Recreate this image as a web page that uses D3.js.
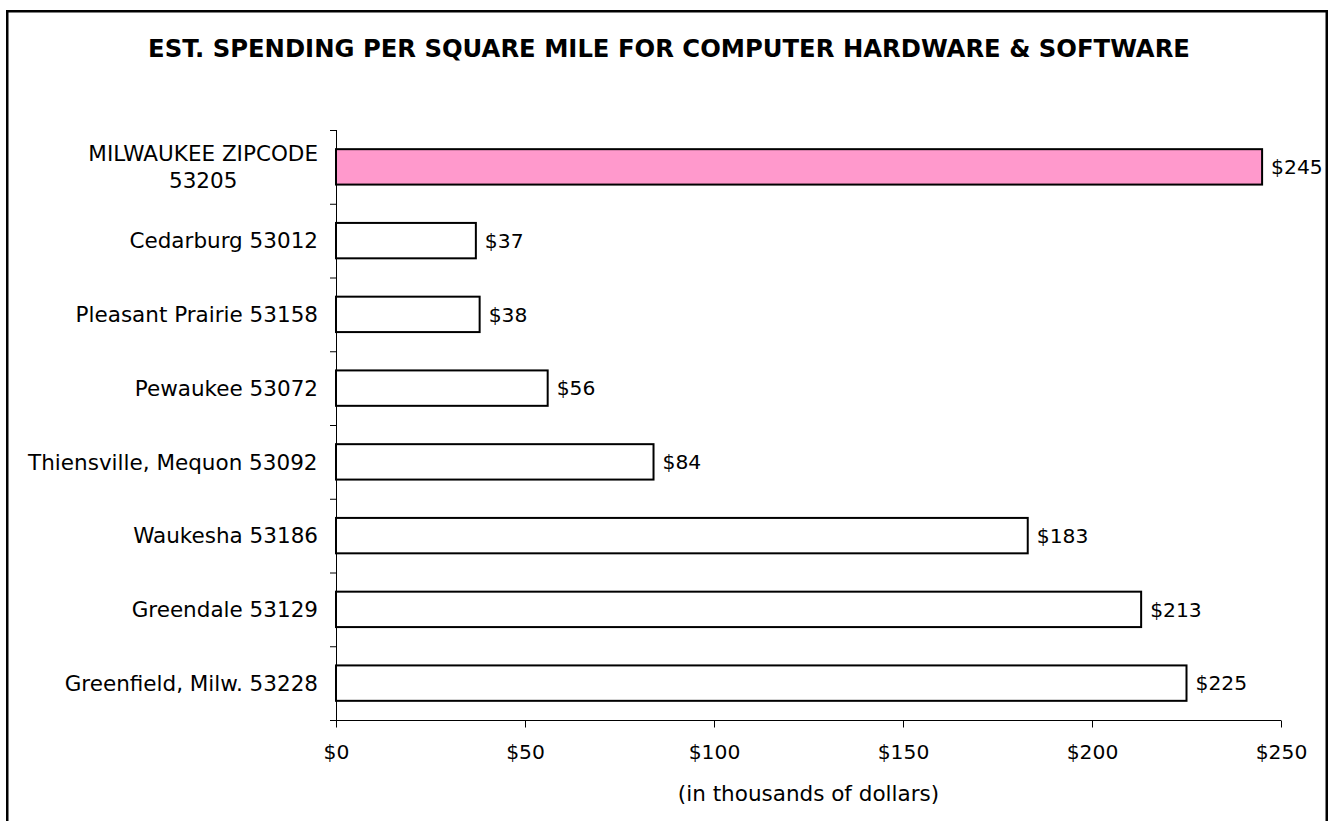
<!DOCTYPE html>
<html>
<head>
<meta charset="utf-8">
<script src="https://cdn.jsdelivr.net/npm/d3@7"></script>
<style>
  html, body { margin: 0; padding: 0; background: #fff; }
  svg { display: block; }
  text { font-family: "DejaVu Sans", Verdana, sans-serif; fill: #000; }
</style>
</head>
<body>
<svg id="chart" width="1333" height="821"></svg>
<script>
const title = "EST. SPENDING PER SQUARE MILE FOR COMPUTER HARDWARE & SOFTWARE";
const categories = [
  ["MILWAUKEE ZIPCODE", "53205"],
  ["Cedarburg 53012"],
  ["Pleasant Prairie 53158"],
  ["Pewaukee 53072"],
  ["Thiensville, Mequon 53092"],
  ["Waukesha 53186"],
  ["Greendale 53129"],
  ["Greenfield, Milw. 53228"]
];
const values = [245, 37, 38, 56, 84, 183, 213, 225];
const highlight = [true, false, false, false, false, false, false, false];
const xTicks = [0, 50, 100, 150, 200, 250];
const xAxisTitle = "(in thousands of dollars)";

const svg = d3.select("#chart");

// outer frame
svg.append("rect")
  .attr("x", 7.25).attr("y", 11.25)
  .attr("width", 1319.5).attr("height", 830)
  .attr("fill", "#fff").attr("stroke", "#000").attr("stroke-width", 2.5);

const margin = { left: 336, right: 1281, top: 130, bottom: 720 };

const x = d3.scaleLinear().domain([0, 250]).range([margin.left, margin.right]);
const y = d3.scaleBand().domain(d3.range(categories.length))
  .range([margin.top, margin.bottom]).paddingInner(0.52).paddingOuter(0.26);

// title
svg.append("text")
  .attr("x", 669).attr("y", 57)
  .attr("text-anchor", "middle")
  .style("font-size", "24.3px").style("font-weight", "bold")
  .text(title);

// bars
svg.append("g").selectAll("rect")
  .data(values)
  .join("rect")
  .attr("x", x(0))
  .attr("y", (d, i) => y(i))
  .attr("width", d => x(d) - x(0))
  .attr("height", y.bandwidth())
  .attr("fill", (d, i) => highlight[i] ? "#FF99CC" : "#FFFFFF")
  .attr("stroke", "#000").attr("stroke-width", 2);

// value labels
svg.append("g").selectAll("text")
  .data(values)
  .join("text")
  .attr("x", d => x(d) + 9)
  .attr("y", (d, i) => y(i) + y.bandwidth() / 2)
  .attr("dy", "0.36em")
  .style("font-size", "20.3px")
  .text(d => "$" + d);

// y axis line + ticks at band boundaries
const step = y.step();
const yAxisG = svg.append("g").attr("stroke", "#000").attr("stroke-width", 1);
yAxisG.append("line")
  .attr("x1", x(0) + 0.5).attr("x2", x(0) + 0.5)
  .attr("y1", margin.top).attr("y2", margin.bottom);
yAxisG.selectAll("line.tick")
  .data(d3.range(categories.length + 1))
  .join("line").attr("class", "tick")
  .attr("x1", x(0) - 6).attr("x2", x(0))
  .attr("y1", i => margin.top + i * step + 0.5)
  .attr("y2", i => margin.top + i * step + 0.5);

// category labels
const catG = svg.append("g");
categories.forEach((lines, i) => {
  const cy = y(i) + y.bandwidth() / 2;
  const lh = 27;
  const t = catG.append("text")
    .attr("text-anchor", "middle")
    .style("font-size", "21.5px");
  lines.forEach((ln, j) => {
    t.append("tspan")
      .attr("x", 0)
      .attr("y", cy + (j - (lines.length - 1) / 2) * lh)
      .attr("dy", "0.36em")
      .text(ln);
  });
  const w = t.node().getBBox().width;
  t.selectAll("tspan").attr("x", 318 - w / 2);
});

// x axis
const xAxis = d3.axisBottom(x).tickValues(xTicks).tickFormat(d => "$" + d)
  .tickSizeInner(7).tickSizeOuter(0).tickPadding(17);
const xg = svg.append("g")
  .attr("transform", `translate(0,${margin.bottom + 0.5})`)
  .call(xAxis);
xg.select(".domain").attr("stroke", "#000").attr("d", `M${x(0) - 6},0H${x(250)}`);
xg.selectAll(".tick line").attr("stroke", "#000");
xg.selectAll(".tick text")
  .style("font-size", "20.3px")
  .style("font-family", '"DejaVu Sans", Verdana, sans-serif')
  .attr("fill", "#000");

svg.append("text")
  .attr("x", (x(0) + x(250)) / 2).attr("y", 801)
  .attr("text-anchor", "middle")
  .style("font-size", "21.5px")
  .text(xAxisTitle);
</script>
</body>
</html>
